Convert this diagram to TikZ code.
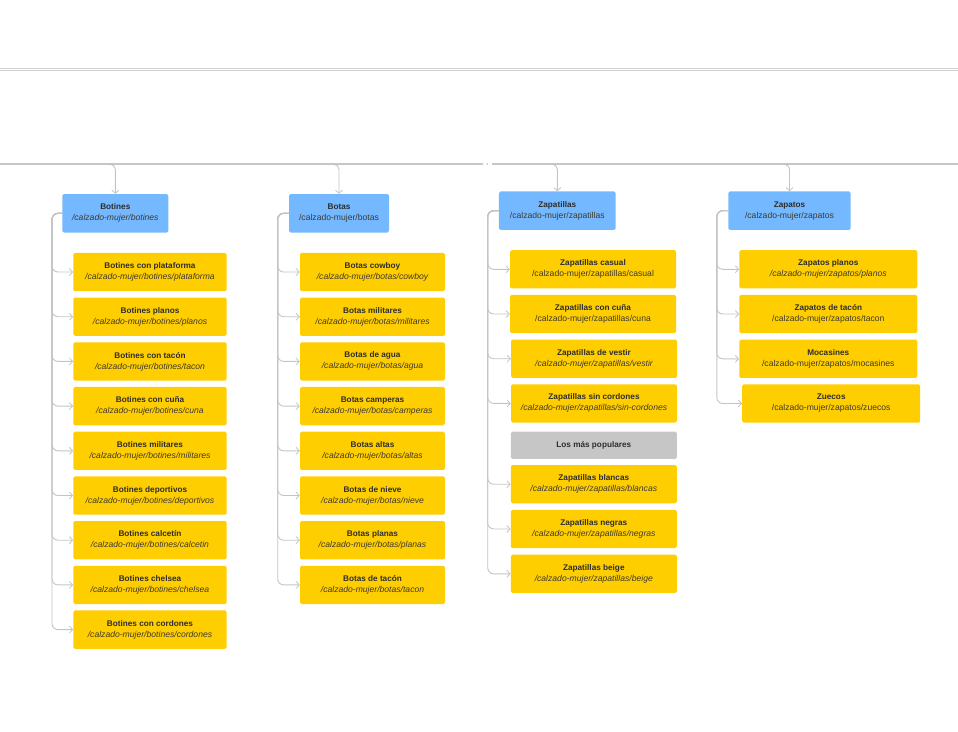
\documentclass[tikz,border=0pt]{standalone}
\usepackage{fontspec}
\setmainfont{Liberation Sans}
\usetikzlibrary{arrows.meta}
\definecolor{hblue}{HTML}{74B8FF}
\definecolor{lyel}{HTML}{FFCE00}
\definecolor{lgrey}{HTML}{C6C6C6}
\definecolor{cgrey}{HTML}{C4C4C4}
\definecolor{tdark}{HTML}{2E2E2E}
\definecolor{tpath}{HTML}{3F3A30}
\newcommand{\mytitle}[1]{{\fontsize{8.2}{11}\selectfont\bfseries #1}}
\newcommand{\mypi}[1]{{\fontsize{8.6}{11}\selectfont\color{tpath}\itshape #1}}
\newcommand{\mypu}[1]{{\fontsize{8.6}{11}\selectfont\color{tpath}#1}}
\tikzset{
  box/.style={rounded corners=1.6pt, inner sep=0pt, align=center, text=tdark,
    font=\fontsize{8.4}{11}\selectfont},
  head/.style={box, fill=hblue, minimum height=38.5pt},
  leaf/.style={box, fill=lyel, minimum height=38.3pt},
  greybox/.style={box, fill=lgrey, minimum height=27.3pt},
  conn/.style={draw=cgrey, line width=0.9pt, rounded corners=6pt,
    -{Straight Barb[length=3.2pt,width=7pt,line width=0.8pt]}},
  topline/.style={draw=cgrey, line width=0.9pt},
}
\begin{document}
\begin{tikzpicture}[x=1pt,y=-1pt]
\useasboundingbox (0,0) rectangle (958,731);
% top lines
\draw[topline, draw=lgrey!80] (0,68.3) -- (958,68.3);
\draw[topline, draw=lgrey!80] (0,70.8) -- (958,70.8);
\draw[draw=lgrey, line width=2pt] (0,164.3) -- (483,164.3);
\draw[draw=lgrey, line width=2pt] (492,164.3) -- (958,164.3);
\node[font=\fontsize{3}{3}\selectfont, text=gray, inner sep=0pt] (pg) at (487.5,164.3) {2};
% spines
\coordinate (sp1) at (52,0);
\coordinate (sp2) at (277.7,0);
\coordinate (sp3) at (487.7,0);
\coordinate (sp4) at (716.8,0);
% top branch points
\coordinate (tb1) at (108,164.3);
\coordinate (tb2) at (331,164.3);
\coordinate (tb3) at (550,164.3);
\coordinate (tb4) at (782,164.3);
% headers
\node[head, minimum width=106pt] (bh) at (115.3,213.3) {\mytitle{Botines}\\\mypi{/calzado-mujer/botines}};
\node[head, minimum width=100pt] (ah) at (339,213.3) {\mytitle{Botas}\\\mypu{/calzado-mujer/botas}};
\node[head, minimum width=116.7pt] (zh) at (557.3,210.7) {\mytitle{Zapatillas}\\\mypu{/calzado-mujer/zapatillas}};
\node[head, minimum width=122.4pt] (oh) at (789.5,210.7) {\mytitle{Zapatos}\\\mypu{/calzado-mujer/zapatos}};
\draw[conn, rounded corners=5pt] (tb1) -| (bh.north);
\draw[conn, rounded corners=5pt] (tb2) -| (ah.north);
\draw[conn, rounded corners=5pt] (tb3) -| (zh.north);
\draw[conn, rounded corners=5pt] (tb4) -| (oh.north);
% Botines
\foreach \t/\p [count=\k] in {Botines con plataforma/plataforma, Botines planos/planos, Botines con tacón/tacon, Botines con cuña/cuna, Botines militares/militares, Botines deportivos/deportivos, Botines calcetín/calcetin, Botines chelsea/chelsea, Botines con cordones/cordones}{
  \node[leaf, minimum width=153.4pt] (bo\k) at (150,{272+(\k-1)*44.7}) {\mytitle{\t}\\\mypi{/calzado-mujer/botines/\p}};
  \draw[conn] (bh.west) -- (bh.west -| sp1) |- (bo\k.west);
}
% Botas
\foreach \t/\p [count=\k] in {Botas cowboy/cowboy, Botas militares/militares, Botas de agua/agua, Botas camperas/camperas, Botas altas/altas, Botas de nieve/nieve, Botas planas/planas, Botas de tacón/tacon}{
  \node[leaf, minimum width=145pt] (ba\k) at (372.5,{272+(\k-1)*44.7}) {\mytitle{\t}\\\mypi{/calzado-mujer/botas/\p}};
  \draw[conn] (ah.west) -- (ah.west -| sp2) |- (ba\k.west);
}
% Zapatillas
\node[leaf, minimum width=166pt] (z1) at (593,269.3) {\mytitle{Zapatillas casual}\\\mypu{/calzado-mujer/zapatillas/casual}};
\node[leaf, minimum width=166pt] (z2) at (593,314) {\mytitle{Zapatillas con cuña}\\\mypu{/calzado-mujer/zapatillas/cuna}};
\node[leaf, minimum width=166pt] (z3) at (594,358.7) {\mytitle{Zapatillas de vestir}\\\mypi{/calzado-mujer/zapatillas/vestir}};
\node[leaf, minimum width=166pt] (z4) at (594,403.4) {\mytitle{Zapatillas sin cordones}\\\mypi{/calzado-mujer/zapatillas/sin-cordones}};
\node[greybox, minimum width=166pt] (zg) at (593.8,445.3) {\mytitle{Los más populares}};
\node[leaf, minimum width=166pt] (z5) at (593.8,484.2) {\mytitle{Zapatillas blancas}\\\mypi{/calzado-mujer/zapatillas/blancas}};
\node[leaf, minimum width=166pt] (z6) at (593.8,529) {\mytitle{Zapatillas negras}\\\mypi{/calzado-mujer/zapatillas/negras}};
\node[leaf, minimum width=166pt] (z7) at (593.8,573.8) {\mytitle{Zapatillas beige}\\\mypi{/calzado-mujer/zapatillas/beige}};
\foreach \k in {1,...,7}{
  \draw[conn] (zh.west) -- (zh.west -| sp3) |- (z\k.west);
}
% Zapatos
\node[leaf, minimum width=178pt] (o1) at (828.3,269.3) {\mytitle{Zapatos planos}\\\mypi{/calzado-mujer/zapatos/planos}};
\node[leaf, minimum width=178pt] (o2) at (828.3,314) {\mytitle{Zapatos de tacón}\\\mypu{/calzado-mujer/zapatos/tacon}};
\node[leaf, minimum width=178pt] (o3) at (828.3,358.8) {\mytitle{Mocasines}\\\mypu{/calzado-mujer/zapatos/mocasines}};
\node[leaf, minimum width=178pt] (o4) at (831.2,403.5) {\mytitle{Zuecos}\\\mypu{/calzado-mujer/zapatos/zuecos}};
\foreach \k in {1,...,4}{
  \draw[conn] (oh.west) -- (oh.west -| sp4) |- (o\k.west);
}
\end{tikzpicture}
\end{document}
